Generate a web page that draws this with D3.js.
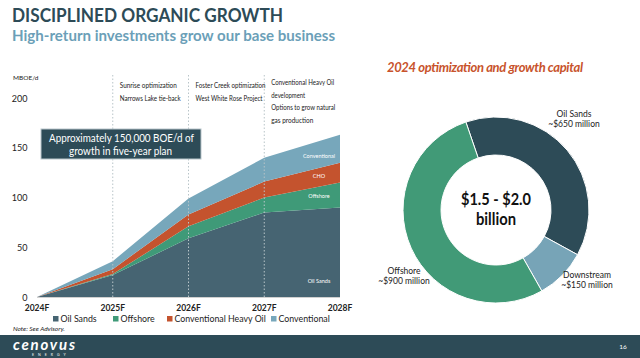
<!DOCTYPE html>
<html><head><meta charset="utf-8">
<script src="https://cdn.jsdelivr.net/npm/d3@7"></script>
<style>
html,body{margin:0;padding:0;background:#fff;}
svg{display:block;font-family:Lato,"Open Sans",sans-serif;}
</style></head>
<body>
<svg id="c" width="640" height="358"></svg>
<script>
// ---- data ----
const years = ["2024F","2025F","2026F","2027F","2028F"];
const seriesNames = ["Oil Sands","Offshore","Conventional Heavy Oil","Conventional"];
const areaLabels = ["Oil Sands","Offshore","CHO","Conventional"];
const oilSands = [0,22,59,85,90];
const offshore = [0,1,12,15,25];
const heavyOil = [0,5,12,16,20];
const conventional = [0,8,16,24,28];
const yTicks = [0,50,100,150,200];
const seriesColors = ["#466472","#3f9a78","#c4532e","#77a7bb"];

const donutNames = ["Oil Sands","Downstream","Offshore"];
const donutValues = [650,150,900];
const donutLabels = ["~$650 million","~$150 million","~$900 million"];
const donutColors = ["#2d4b57","#77a4b7","#419a77"];

const annotations = [
  ["Sunrise optimization","Narrows Lake tie-back"],
  ["Foster Creek optimization","West White Rose Project"],
  ["Conventional Heavy Oil","development","Options to grow natural","gas production"]
];

const svg = d3.select("#c");
const dark = "#2d4b57";

// titles
svg.append("text").attr("x",12).attr("y",22).attr("font-size",19.5).attr("font-weight",700)
  .attr("fill",dark).attr("textLength",271).attr("lengthAdjust","spacingAndGlyphs").text("DISCIPLINED ORGANIC GROWTH");
svg.append("text").attr("x",12).attr("y",41).attr("font-size",15).attr("font-weight",700)
  .attr("fill","#6b9fb8").attr("textLength",323).attr("lengthAdjust","spacingAndGlyphs").text("High-return investments grow our base business");

// ---- area chart ----
const x = d3.scalePoint().domain(years).range([37,340]);
const y = d3.scaleLinear().domain([0,200]).range([297,98]);

const table = years.map((yr,i)=>({year:yr, s0:oilSands[i], s1:offshore[i], s2:heavyOil[i], s3:conventional[i]}));
const stack = d3.stack().keys(["s0","s1","s2","s3"]);
const layers = stack(table);
const area = d3.area().x(d=>x(d.data.year)).y0(d=>y(d[0])).y1(d=>y(d[1]));

svg.append("g").selectAll("path").data(layers).join("path")
  .attr("d",area).attr("fill",(d,i)=>seriesColors[i]);

// dotted vertical lines
svg.append("g").selectAll("line").data(years.slice(1,4)).join("line")
  .attr("x1",d=>x(d)).attr("x2",d=>x(d)).attr("y1",75).attr("y2",y(0))
  .attr("stroke","#b8c4c8").attr("stroke-width",1).attr("stroke-dasharray","1.5,2");

// axis baseline
svg.append("line").attr("x1",x(years[0])).attr("x2",x(years[4])).attr("y1",y(0)+0.5).attr("y2",y(0)+0.5)
  .attr("stroke","#d0d0d0");

// y ticks
svg.append("g").selectAll("text").data(yTicks).join("text")
  .attr("x",27.5).attr("y",d=>y(d)+3.5).attr("text-anchor","end")
  .attr("font-size",9).attr("fill","#222").text(d=>d);
svg.append("text").attr("x",13).attr("y",80).attr("font-size",6.5).attr("fill","#222").text("MBOE/d");

// x labels
svg.append("g").selectAll("text").data(years).join("text")
  .attr("x",d=>x(d)).attr("y",311).attr("text-anchor","middle")
  .attr("font-size",8.5).attr("font-weight",700).attr("fill","#222").text(d=>d);

// annotations
const annoWidths = [[57,61],[70,67],[63,34,64,42]];
annotations.forEach((lines,k)=>{
  const xs = x(years[k+1]) + 7;
  const gap = k===2 ? 12.5 : 13;
  const y0 = k===2 ? 85 : 88;
  lines.forEach((t,j)=>{
    svg.append("text").attr("x",xs).attr("y",y0+j*gap).attr("font-size",7.2).attr("fill","#222")
      .attr("textLength",annoWidths[k][j]).attr("lengthAdjust","spacingAndGlyphs").text(t);
  });
});

// callout box
svg.append("rect").attr("x",41).attr("y",129).attr("width",160).attr("height",30)
  .attr("fill",dark).attr("stroke","#b9c6cb").attr("stroke-width",1);
svg.append("text").attr("x",49).attr("y",142).attr("font-size",11)
  .attr("fill","#fff").attr("textLength",145).attr("lengthAdjust","spacingAndGlyphs").text("Approximately 150,000 BOE/d of");
svg.append("text").attr("x",69).attr("y",155).attr("font-size",11)
  .attr("fill","#fff").attr("textLength",103).attr("lengthAdjust","spacingAndGlyphs").text("growth in five-year plan");

// in-area labels
const last = layers.map(l=>l[l.length-1]);
const labelY = [283, (y(last[1][0])+y(last[1][1]))/2+3, (y(last[2][0])+y(last[2][1]))/2+5, 158];
areaLabels.forEach((t,i)=>{
  svg.append("text").attr("x",319).attr("y",labelY[i]).attr("text-anchor","middle")
    .attr("font-size",5.5).attr("fill","#fff").text(t);
});

// legend
const legX = [53,113,167,271];
seriesNames.forEach((n,i)=>{
  svg.append("rect").attr("x",legX[i]).attr("y",316).attr("width",5.5).attr("height",5.5).attr("fill",seriesColors[i]);
  svg.append("text").attr("x",legX[i]+7.5).attr("y",322).attr("font-size",8.8).attr("fill","#222").text(n);
});
svg.append("text").attr("x",13).attr("y",331).attr("font-size",6.5).attr("font-style","italic")
  .attr("fill","#222").text("Note: See Advisory.");

// ---- donut ----
svg.append("text").attr("x",387).attr("y",72).attr("font-size",13).attr("font-weight",700)
  .attr("font-style","italic").attr("fill","#c8532c").attr("textLength",196).text("2024 optimization and growth capital");

const cx = 496, cy = 210;
const pie = d3.pie().sort(null).value(d=>d).startAngle(-0.33).endAngle(-0.33+2*Math.PI);
const arc = d3.arc().innerRadius(55).outerRadius(93);
const g = svg.append("g").attr("transform",`translate(${cx},${cy})`);
g.selectAll("path").data(pie(donutValues)).join("path")
  .attr("d",arc).attr("fill",(d,i)=>donutColors[i]).attr("stroke","#fff").attr("stroke-width",1);

g.append("text").attr("x",-35).attr("y",-5).attr("font-size",17).attr("font-weight",700)
  .attr("fill","#111").attr("textLength",70).attr("lengthAdjust","spacingAndGlyphs").text("$1.5 - $2.0");
g.append("text").attr("x",-20).attr("y",15).attr("font-size",17).attr("font-weight",700)
  .attr("fill","#111").attr("textLength",40).attr("lengthAdjust","spacingAndGlyphs").text("billion");

const dLab = [[574,117],[587,278],[404,274]];
donutNames.forEach((n,i)=>{
  svg.append("text").attr("x",dLab[i][0]).attr("y",dLab[i][1]).attr("text-anchor","middle")
    .attr("font-size",8.5).attr("fill","#222").text(n);
  svg.append("text").attr("x",dLab[i][0]).attr("y",dLab[i][1]+10).attr("text-anchor","middle")
    .attr("font-size",8.5).attr("fill","#222").text(donutLabels[i]);
});

// ---- footer ----
svg.append("rect").attr("x",0).attr("y",335).attr("width",640).attr("height",23).attr("fill",dark);
svg.append("text").attr("x",13).attr("y",350).attr("font-size",15).attr("font-weight",700).attr("font-style","italic")
  .attr("fill","#fff").attr("textLength",62).text("cenovus");
svg.append("text").attr("x",32).attr("y",356).attr("font-size",3.5).attr("fill","#fff")
  .attr("letter-spacing",4).text("ENERGY");
svg.append("text").attr("x",623).attr("y",349).attr("text-anchor","middle").attr("font-size",6.5)
  .attr("fill","#fff").text("16");
</script>
</body></html>
